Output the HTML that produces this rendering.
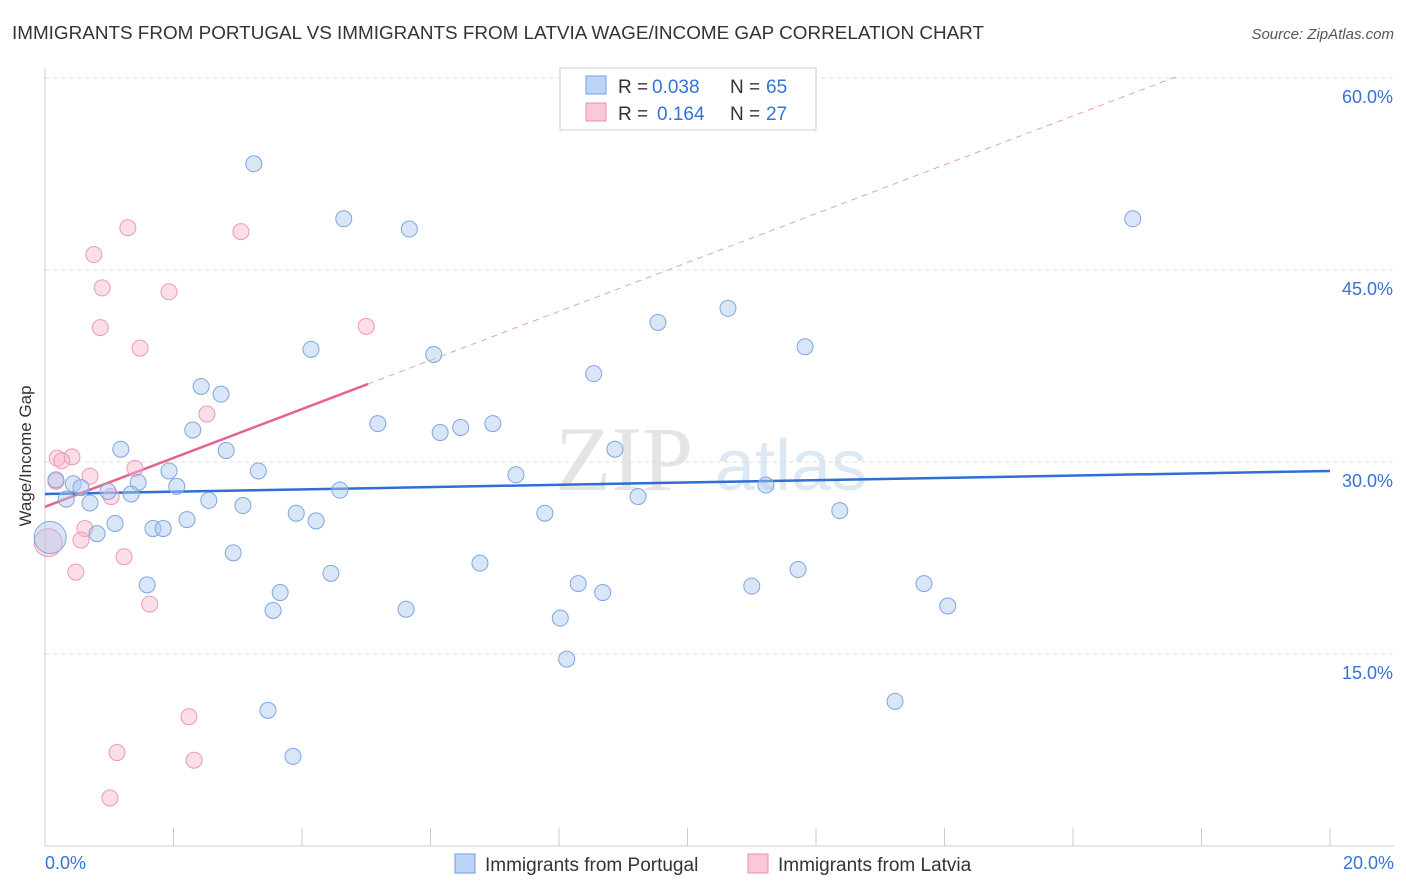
<!DOCTYPE html>
<html><head><meta charset="utf-8"><style>
body{margin:0;background:#fff;font-family:"Liberation Sans",sans-serif;}
#wrap{position:relative;width:1406px;height:892px;overflow:hidden;}
</style></head><body>
<div id="wrap">
<svg id="svg" width="1406" height="892" xmlns="http://www.w3.org/2000/svg">
<text x="12" y="39" font-size="18" fill="#333" textLength="972" lengthAdjust="spacingAndGlyphs">IMMIGRANTS FROM PORTUGAL VS IMMIGRANTS FROM LATVIA WAGE/INCOME GAP CORRELATION CHART</text>
<text x="1394" y="39" font-size="15" fill="#555" text-anchor="end" font-style="italic">Source: ZipAtlas.com</text>
<text x="31" y="456" font-size="17" fill="#333" text-anchor="middle" transform="rotate(-90 31 456)">Wage/Income Gap</text>
<g><text x="555" y="490" font-size="92" fill="#e4e4e4" font-family="Liberation Serif,serif">ZIP</text><text x="715" y="490" font-size="72" fill="#dde8f5">atlas</text></g>
<g id="grid"></g><g id="axes"></g><g id="lines"></g><g id="pts"></g>
<g>
<rect x="560" y="68" width="256" height="62" fill="#fff" stroke="#ccc"/>
<rect x="586" y="76" width="20" height="18" fill="#bcd4f5" stroke="#6f9ee0"/>
<rect x="586" y="103" width="20" height="18" fill="#f9c9d8" stroke="#e98fae"/>
<text y="93" font-size="19" fill="#333"><tspan x="618">R =</tspan><tspan x="652" fill="#3673d6">0.038</tspan><tspan x="730">N =</tspan><tspan x="766" fill="#3673d6">65</tspan></text>
<text y="120" font-size="19" fill="#333"><tspan x="618">R =</tspan><tspan x="657" fill="#3673d6">0.164</tspan><tspan x="730">N =</tspan><tspan x="766" fill="#3673d6">27</tspan></text>
</g>
<g>
<rect x="455" y="854" width="20" height="19" fill="#bcd4f5" stroke="#6f9ee0"/>
<text x="485" y="871" font-size="19" fill="#333">Immigrants from Portugal</text>
<rect x="748" y="854" width="20" height="19" fill="#f9c9d8" stroke="#e98fae"/>
<text x="778" y="871" font-size="19" fill="#333">Immigrants from Latvia</text>
</g>
</svg>
</div>
<script>
const yTicks=[15,30,45,60];
const yTickLabels=["15.0%","30.0%","45.0%","60.0%"];
const xTicks=[0,2,4,6,8,10,12,14,16,18,20];
const xEndLabels=["0.0%","20.0%"];
const portugalX=[3.25,4.65,5.67,16.93,10.63,9.54,4.14,6.05,11.83,8.54,2.43,2.74,5.18,6.47,6.97,6.15,2.30,1.18,2.82,8.87,1.93,3.32,7.33,0.17,0.44,1.45,2.05,0.56,4.59,11.22,0.98,1.34,9.23,0.33,0.70,2.55,3.08,3.91,7.78,12.37,2.21,4.22,1.09,0.81,1.68,1.84,2.93,6.77,4.45,11.72,8.30,1.59,11.0,13.68,3.66,8.68,3.55,5.62,14.05,8.02,8.12,3.47,13.23,3.86,0.08];
const portugalY=[53.3,49.0,48.2,49.0,42.0,40.9,38.8,38.4,39.0,36.9,35.9,35.3,33.0,32.7,33.0,32.3,32.5,31.0,30.9,31.0,29.3,29.3,29.0,28.6,28.3,28.4,28.1,28.0,27.8,28.2,27.7,27.5,27.3,27.1,26.8,27.0,26.6,26.0,26.0,26.2,25.5,25.4,25.2,24.4,24.8,24.8,22.9,22.1,21.3,21.6,20.5,20.4,20.3,20.5,19.8,19.8,18.4,18.5,18.75,17.8,14.6,10.6,11.3,7.0,24.1];
const latviaX=[1.29,3.05,0.76,0.89,1.93,5.0,0.86,1.48,2.52,0.19,0.42,0.26,0.70,1.40,0.17,1.03,0.62,0.56,0.05,1.23,0.48,1.63,2.24,1.12,2.32,1.01];
const latviaY=[48.3,48.0,46.2,43.6,43.3,40.6,40.5,38.9,33.75,30.3,30.4,30.1,28.9,29.5,28.5,27.3,24.8,23.9,23.7,22.6,21.4,18.9,10.1,7.3,6.7,3.75];
const portugalTrend=[27.5,29.3];
const latviaTrend=[26.5,36.1,5.03,17.6];
const NS="http://www.w3.org/2000/svg";
const xs=v=>45+v*64.25, ys=v=>846-v*12.8;
function mk(p,t,a){const e=document.createElementNS(NS,t);for(const k in a)e.setAttribute(k,a[k]);document.getElementById(p).appendChild(e);return e;}
yTicks.forEach((t,i)=>{
 const g=mk('grid','line',{x1:45,x2:1394,y1:ys(t),y2:ys(t),stroke:'#ddd','stroke-dasharray':'4,4'});
 
 
 const l=mk('axes','text',{x:1393,y:ys(t)+25,'font-size':18,fill:'#3673d6','text-anchor':'end'});
 l.textContent=yTickLabels[i];
 
 
});
const ax=mk('axes','line',{x1:45,x2:1394,y1:846,y2:846,stroke:'#ccc'});


const ay=mk('axes','line',{x1:45,x2:45,y1:68,y2:846,stroke:'#ccc'});


xTicks.forEach(t=>{const k=mk('axes','line',{x1:xs(t),x2:xs(t),y1:828,y2:846,stroke:'#ccc'});
 
 });
[[0,'start',45],[20,'end',1394]].forEach((d,i)=>{const l=mk('axes','text',{x:d[2],y:869,'font-size':18,fill:'#3673d6','text-anchor':d[1]});l.textContent=xEndLabels[i];
 
 });
const bl=mk('lines','line',{x1:xs(0),y1:ys(portugalTrend[0]),x2:xs(20),y2:ys(portugalTrend[1]),stroke:'#2f6fd4','stroke-width':2.5});


const sl=(latviaTrend[1]-latviaTrend[0])/latviaTrend[2];
const pd=mk('lines','line',{x1:xs(latviaTrend[2]),y1:ys(latviaTrend[1]),x2:xs(latviaTrend[3]),y2:ys(latviaTrend[0]+sl*latviaTrend[3]),stroke:'#e8a0b8','stroke-width':1,'stroke-dasharray':'6,5'});


const pl=mk('lines','line',{x1:xs(0),y1:ys(latviaTrend[0]),x2:xs(latviaTrend[2]),y2:ys(latviaTrend[1]),stroke:'#e5638f','stroke-width':2.5});


latviaX.forEach((x,i)=>{const c=mk('pts','circle',{cx:xs(x),cy:ys(latviaY[i]),r:i==18?14:8,fill:'rgba(247,182,204,0.45)',stroke:'#eb9ab6','stroke-width':1});
 
 });
portugalX.forEach((x,i)=>{const c=mk('pts','circle',{cx:xs(x),cy:ys(portugalY[i]),r:i==64?16:8,fill:'rgba(170,200,240,0.45)',stroke:'#7ea6e0','stroke-width':1});
 
 });
</script>
</body></html>
